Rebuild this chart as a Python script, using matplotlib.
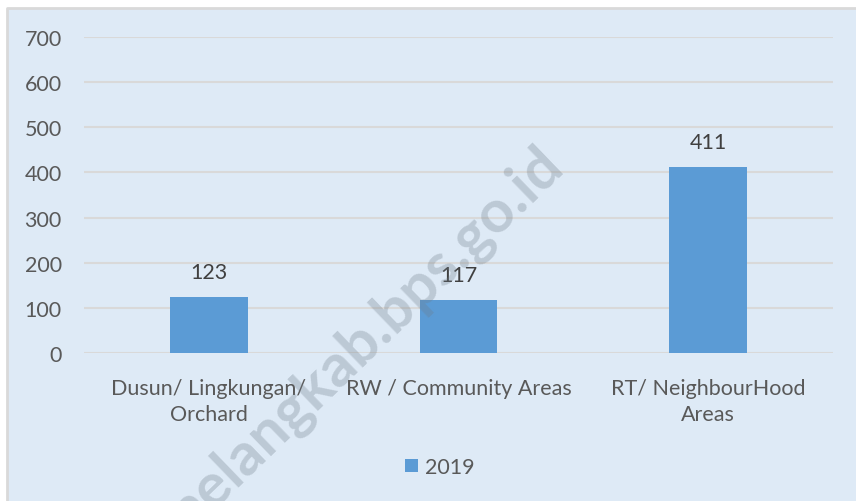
import matplotlib.pyplot as plt
from matplotlib.lines import Line2D

categories = ["Dusun/ Lingkungan/\nOrchard", "RW / Community Areas", "RT/ NeighbourHood\nAreas"]
values_2019 = [123, 117, 411]
series_name = "2019"
yticks = [0, 100, 200, 300, 400, 500, 600, 700]

bg = "#DEEAF6"
bar_color = "#5B9BD5"
grid_color = "#D9D9D9"
text_color = "#595959"

plt.rcParams['font.family'] = ['Lato', 'DejaVu Sans']

W, H = 856, 502
fig = plt.figure(figsize=(W / 100, H / 100), dpi=100)
fig.patch.set_facecolor(bg)

# white margin above / left of the chart area and its gray border
bx, by = 7.5 / W, 1 - 8.5 / H
fig.add_artist(plt.Rectangle((0, by), 1, 1 - by, transform=fig.transFigure,
                             facecolor="white", edgecolor="none", zorder=0))
fig.add_artist(plt.Rectangle((0, 0), bx, 1, transform=fig.transFigure,
                             facecolor="white", edgecolor="none", zorder=0))
fig.add_artist(Line2D([bx, bx, 1], [0, by, by], transform=fig.transFigure,
                      color=grid_color, linewidth=2, zorder=0))

ax = fig.add_axes([84 / W, 1 - 354 / H, (833 - 84) / W, (354 - 38) / H])
ax.set_facecolor("none")
ax.set_zorder(2)

x = range(len(categories))
bars = ax.bar(x, values_2019, width=0.31, color=bar_color, label=series_name, zorder=3)
for rect, v in zip(bars, values_2019):
    ax.annotate(str(v), (rect.get_x() + rect.get_width() / 2, v), xytext=(0, 18),
                textcoords="offset points", ha="center", va="center",
                fontsize=15.5, color="#404040")

ax.set_xlim(-0.5, len(categories) - 0.5)
ax.set_ylim(0, 700)
ax.set_yticks(yticks)
ax.set_xticks(list(x))
ax.set_xticklabels(categories, fontsize=15.5, color=text_color, linespacing=1.35)
ax.tick_params(axis="y", length=0, pad=16, labelsize=15.5, labelcolor=text_color)
ax.tick_params(axis="x", length=0, pad=18)
ax.grid(axis="y", color=grid_color, linewidth=1.5, zorder=0)
for s in ax.spines.values():
    s.set_visible(False)

leg = fig.legend(loc="center", bbox_to_anchor=(440 / W, 1 - 468 / H), frameon=False,
                 fontsize=15.5, handlelength=0.6, handleheight=0.6, handletextpad=0.35)
for t in leg.get_texts():
    t.set_color(text_color)

# site watermark
fig.text(360 / W, 1 - 344 / H, "melangkab.bps.go.id", rotation=44, ha="center", va="center",
         fontsize=43, fontweight="bold", color="#6F7C88", alpha=0.3, zorder=10)

fig.savefig("out.png", dpi=100, facecolor=fig.get_facecolor())
